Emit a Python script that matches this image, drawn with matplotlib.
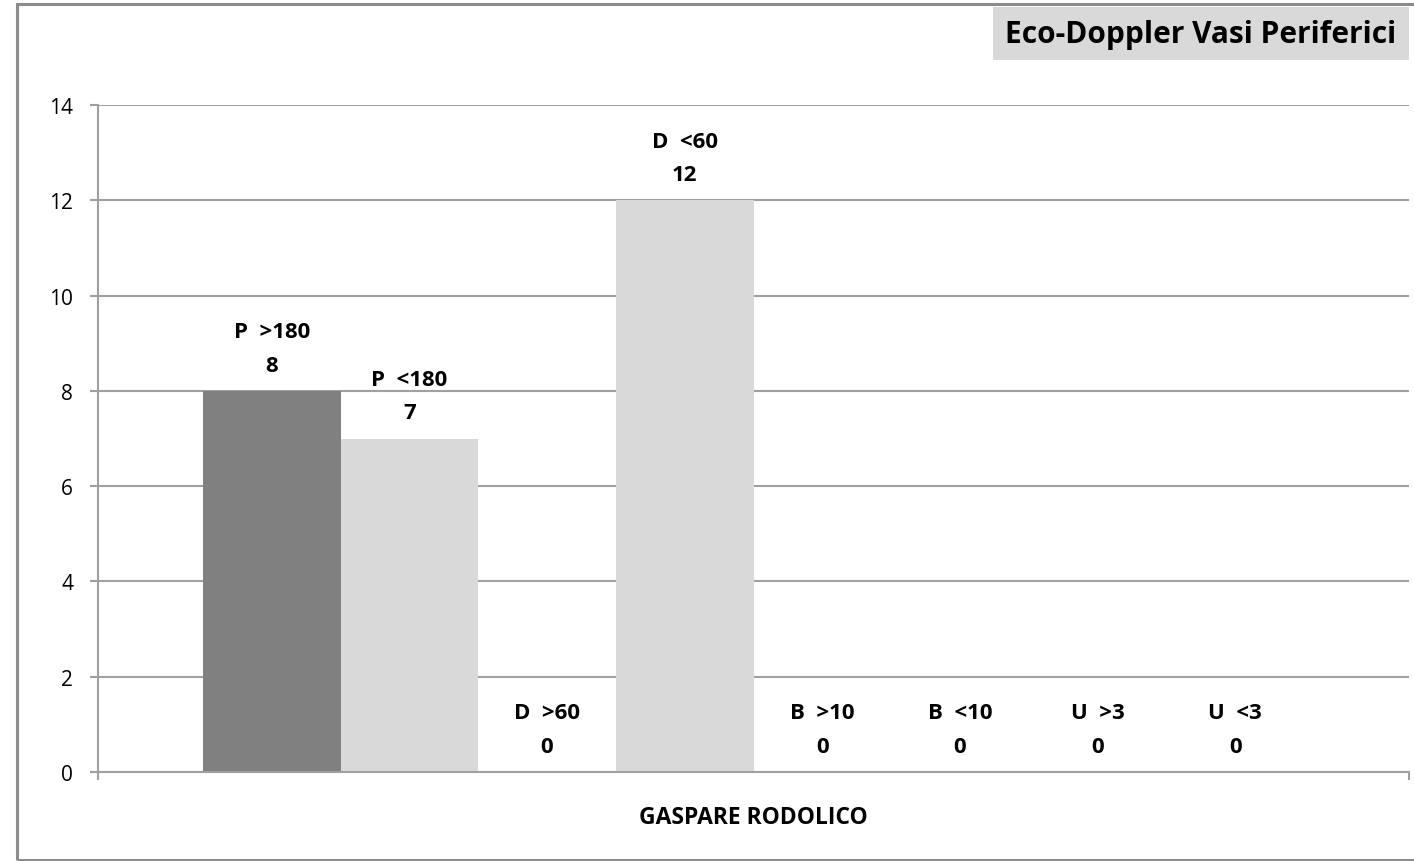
"""
Eco-Doppler bar chart
"""
import matplotlib
matplotlib.use("Agg")
import matplotlib.pyplot as plt
from matplotlib.patches import Rectangle

# data
categories = ["P  >180", "P  <180", "D  >60", "D  <60",
              "B  >10", "B  <10", "U  >3", "U  <3"]
values = [8, 7, 0, 12, 0, 0, 0, 0]
bar_colors = ["#808080", "#d9d9d9", "#d9d9d9", "#d9d9d9",
              "#d9d9d9", "#d9d9d9", "#d9d9d9", "#d9d9d9"]
y_ticks = [0, 2, 4, 6, 8, 10, 12, 14]
group_label = "GASPARE RODOLICO"
title = "Eco-Doppler Vasi Periferici"

plt.rcParams['font.family'] = ['Open Sans', 'DejaVu Sans']
GRID = "#a0a0a0"
W, H = 1414, 862

fig = plt.figure(figsize=(14.14, 8.62), dpi=100)
# outer frame of the chart area
fig.patches.append(Rectangle((17 / W, 1 / H), 1.1, 856 / H,
                             transform=fig.transFigure, fill=False,
                             edgecolor="#8c8c8c", linewidth=2.2, zorder=0))

ax = fig.add_axes([98 / W, 89 / H, 1311 / W, 667 / H])
x = list(range(len(categories)))
ax.bar(x, values, width=1.0, color=bar_colors, zorder=2)

ax.set_ylim(0, 14)
ax.set_xlim(-1.262, 8.262)
ax.set_yticks(y_ticks)
ax.set_yticklabels([str(v) for v in y_ticks], fontsize=15)
ax.set_xticks([-1.262, 8.262])
ax.set_xticklabels(["", ""])
ax.tick_params(axis="y", direction="out", length=6, width=1.5, color=GRID, pad=12)
ax.tick_params(axis="x", direction="out", length=6, width=1.5, color=GRID)
ax.yaxis.grid(True, color=GRID, linewidth=1.5, zorder=1)
ax.set_axisbelow(True)
for side in ["top", "right"]:
    ax.spines[side].set_visible(False)
for side in ["left", "bottom"]:
    ax.spines[side].set_color(GRID)
    ax.spines[side].set_linewidth(1.5)

# value labels above each bar
for xi, name, val in zip(x, categories, values):
    ax.annotate(str(val), (xi, val), xytext=(0, 18.5), textcoords="offset points",
                ha="center", va="center", fontsize=16, fontweight="bold")
    ax.annotate(name, (xi, val), xytext=(0, 42.5), textcoords="offset points",
                ha="center", va="center", fontsize=16, fontweight="bold")

ax.text(0.5, -0.068, group_label, transform=ax.transAxes, ha="center",
        va="center", fontsize=16.5, fontweight="bold")

# title box, top right
fig.patches.append(Rectangle((993 / W, 1 - 61 / H), 416 / W, 53 / H,
                             transform=fig.transFigure, facecolor="#d9d9d9",
                             edgecolor="none", zorder=1))
fig.text(1201 / W, 1 - 35 / H, title, ha="center", va="center",
         fontsize=21.5, fontweight="bold", zorder=2)

fig.savefig("out.png", dpi=100, facecolor="white")
